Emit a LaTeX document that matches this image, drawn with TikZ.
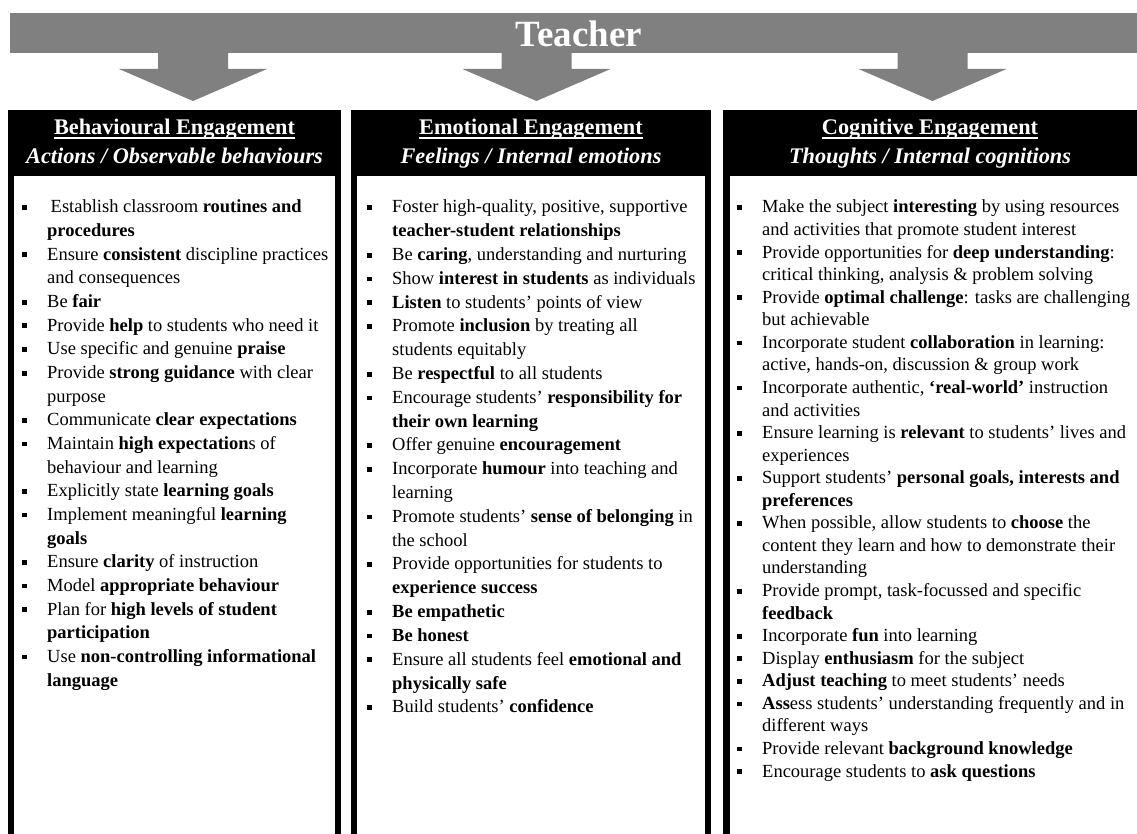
\documentclass[tikz,border=0pt]{standalone}
\usepackage{fontspec}
\setmainfont{Liberation Serif}
\definecolor{bannergray}{RGB}{128,128,128}
\newcommand\bitem[1]{\hbox{\llap{\raisebox{3pt}{\rule{4.8pt}{4.8pt}}\hspace{20pt}}#1}}
\newcommand\bcont[1]{\hbox{#1}}
\newcommand\colbody[2]{\vtop{\baselineskip=#1\lineskiplimit=-100pt\lineskip=0pt #2}}
\tikzset{
  bodytext/.style={anchor=base west, inner sep=0pt, font=\fontsize{18.5}{23.65}\selectfont},
  hdrtitle/.style={anchor=base, inner sep=0pt, text=white, font=\fontsize{22.3}{26}\selectfont\bfseries},
  hdrsub/.style={anchor=base, inner sep=0pt, text=white, font=\fontsize{22.3}{26}\selectfont\bfseries\itshape},
  outerbox/.style={fill=black},
  innerbox/.style={fill=white},
  uline/.style={white, line width=1.4pt},
}
\begin{document}
\begin{tikzpicture}[x=1pt,y=1pt]
\useasboundingbox (0,0) rectangle (1137,-834);
% banner
\fill[bannergray] (10,-13) rectangle (1140,-53);
\node[anchor=base, inner sep=0pt, text=white, font=\fontsize{37}{40}\selectfont\bfseries] (teacher) at (579,-47) {Teacher};
% block arrows
\foreach \cx in {193,536.5,932.5}{
  \fill[bannergray] (\cx-35,-52) -- (\cx+35,-52) -- (\cx+35,-69) -- (\cx+74,-69) -- (\cx,-101) -- (\cx-74,-69) -- (\cx-35,-69) -- cycle;
}
% columns
\fill[outerbox] (8,-110) rectangle (341,-840);
\fill[innerbox] (14,-176) rectangle (335,-840);
\fill[outerbox] (351,-110) rectangle (711,-840);
\fill[innerbox] (357,-176) rectangle (705,-840);
\fill[outerbox] (723,-110) rectangle (1145,-840);
\fill[innerbox] (730,-176) rectangle (1145,-840);
% headers
\node[hdrtitle] (hL) at (174.5,-135) {Behavioural Engagement};
\node[hdrsub] (sL) at (174.5,-164) {Actions / Observable behaviours};
\node[hdrtitle] (hM) at (531,-135) {Emotional Engagement};
\node[hdrsub] (sM) at (531,-164) {Feelings / Internal emotions};
\node[hdrtitle] (hR) at (930,-135) {Cognitive Engagement};
\node[hdrsub] (sR) at (930,-164) {Thoughts / Internal cognitions};
\foreach \h in {hL,hM,hR}{
  \draw[uline] ([yshift=-3pt]\h.base west) -- ([yshift=-3pt]\h.base east);
}
% left column
\node[bodytext] (colL) at (47,-213) {\colbody{23.65pt}{%
\bitem{\hspace{3.5pt}Establish classroom \textbf{routines and}}
\bcont{\textbf{procedures}}
\bitem{Ensure \textbf{consistent} discipline practices}
\bcont{and consequences}
\bitem{Be \textbf{fair}}
\bitem{Provide \textbf{help} to students who need it}
\bitem{Use specific and genuine \textbf{praise}}
\bitem{Provide \textbf{strong guidance} with clear}
\bcont{purpose}
\bitem{Communicate \textbf{clear expectations}}
\bitem{Maintain \textbf{high expectation}s of}
\bcont{behaviour and learning}
\bitem{Explicitly state \textbf{learning goals}}
\bitem{Implement meaningful \textbf{learning}}
\bcont{\textbf{goals}}
\bitem{Ensure \textbf{clarity} of instruction}
\bitem{Model \textbf{appropriate behaviour}}
\bitem{Plan for \textbf{high levels of student}}
\bcont{\textbf{participation}}
\bitem{Use \textbf{non-controlling informational}}
\bcont{\textbf{language}}}};
% middle column
\node[bodytext] (colM) at (392,-213) {\colbody{23.8pt}{%
\bitem{Foster high-quality, positive, supportive}
\bcont{\textbf{teacher-student relationships}}
\bitem{Be \textbf{caring}, understanding and nurturing}
\bitem{Show \textbf{interest in students} as individuals}
\bitem{\textbf{Listen} to students’ points of view}
\bitem{Promote \textbf{inclusion} by treating all}
\bcont{students equitably}
\bitem{Be \textbf{respectful} to all students}
\bitem{Encourage students’ \textbf{responsibility for}}
\bcont{\textbf{their own learning}}
\bitem{Offer genuine \textbf{encouragement}}
\bitem{Incorporate \textbf{humour} into teaching and}
\bcont{learning}
\bitem{Promote students’ \textbf{sense of belonging} in}
\bcont{the school}
\bitem{Provide opportunities for students to}
\bcont{\textbf{experience success}}
\bitem{\textbf{Be empathetic}}
\bitem{\textbf{Be honest}}
\bitem{Ensure all students feel \textbf{emotional and}}
\bcont{\textbf{physically safe}}
\bitem{Build students’ \textbf{confidence}}}};
% right column
\node[bodytext] (colR) at (762,-213) {\colbody{22.56pt}{%
\bitem{Make the subject \textbf{interesting} by using resources}
\bcont{and activities that promote student interest}
\bitem{Provide opportunities for \textbf{deep understanding}:}
\bcont{critical thinking, analysis \& problem solving}
\bitem{Provide \textbf{optimal challenge}: tasks are challenging}
\bcont{but achievable}
\bitem{Incorporate student \textbf{collaboration} in learning:}
\bcont{active, hands-on, discussion \& group work}
\bitem{Incorporate authentic, \textbf{‘real-world’} instruction}
\bcont{and activities}
\bitem{Ensure learning is \textbf{relevant} to students’ lives and}
\bcont{experiences}
\bitem{Support students’ \textbf{personal goals, interests and}}
\bcont{\textbf{preferences}}
\bitem{When possible, allow students to \textbf{choose} the}
\bcont{content they learn and how to demonstrate their}
\bcont{understanding}
\bitem{Provide prompt, task-focussed and specific}
\bcont{\textbf{feedback}}
\bitem{Incorporate \textbf{fun} into learning}
\bitem{Display \textbf{enthusiasm} for the subject}
\bitem{\textbf{Adjust teaching} to meet students’ needs}
\bitem{\textbf{Ass}ess students’ understanding frequently and in}
\bcont{different ways}
\bitem{Provide relevant \textbf{background knowledge}}
\bitem{Encourage students to \textbf{ask questions}}}};
\end{tikzpicture}
\end{document}
